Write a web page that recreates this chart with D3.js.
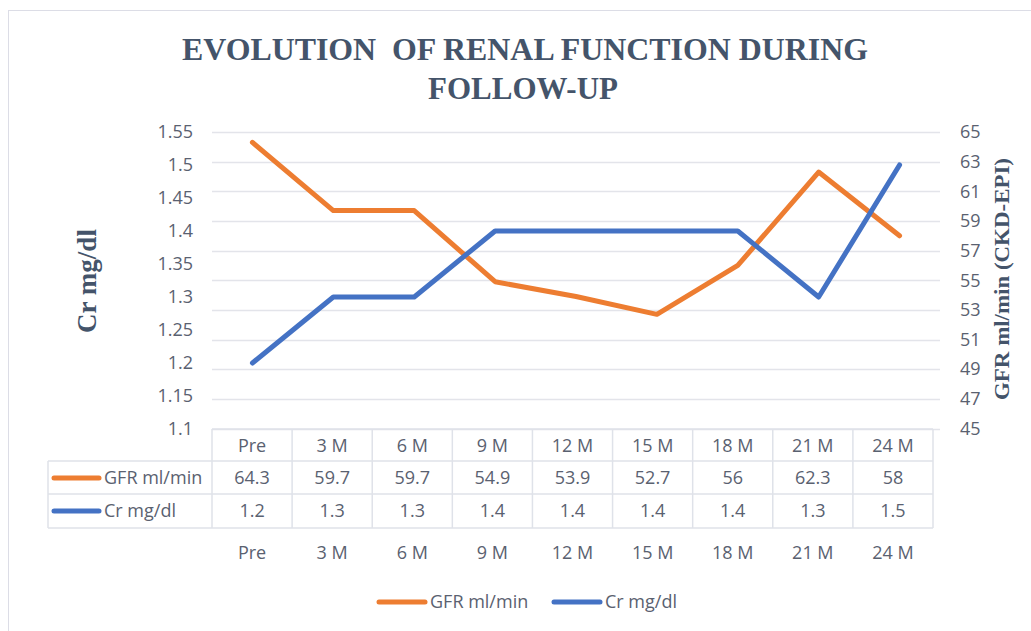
<!DOCTYPE html>
<html>
<head>
<meta charset="utf-8">
<script src="https://cdn.jsdelivr.net/npm/d3@7"></script>
<style>
  html, body { margin: 0; padding: 0; background: #fff; }
  svg { display: block; }
</style>
</head>
<body>
<svg id="chart" width="1031" height="631"></svg>
<script>
// ---- data ----
const categories = ["Pre", "3 M", "6 M", "9 M", "12 M", "15 M", "18 M", "21 M", "24 M"];
const gfrValues = [64.3, 59.7, 59.7, 54.9, 53.9, 52.7, 56, 62.3, 58];
const crValues = [1.2, 1.3, 1.3, 1.4, 1.4, 1.4, 1.4, 1.3, 1.5];
const gfrLabels = ["64.3", "59.7", "59.7", "54.9", "53.9", "52.7", "56", "62.3", "58"];
const crLabels = ["1.2", "1.3", "1.3", "1.4", "1.4", "1.4", "1.4", "1.3", "1.5"];
const leftTicks = [1.1, 1.15, 1.2, 1.25, 1.3, 1.35, 1.4, 1.45, 1.5, 1.55];
const leftTickLabels = ["1.1", "1.15", "1.2", "1.25", "1.3", "1.35", "1.4", "1.45", "1.5", "1.55"];
const rightTicks = [45, 47, 49, 51, 53, 55, 57, 59, 61, 63, 65];
const seriesNames = ["GFR ml/min", "Cr mg/dl"];
const titleLines = ["EVOLUTION  OF RENAL FUNCTION DURING", "FOLLOW-UP"];
const leftTitle = "Cr mg/dl";
const rightTitle = "GFR ml/min (CKD-EPI)";

// ---- styles ----
const ORANGE = "#ED7D31", BLUE = "#4472C4";
const TXT = "#5a6170", TITLE = "#44546A", GRID = "#e3e4ea", TBL = "#dfe2e9";
const SANS = "'Open Sans', 'Noto Sans', sans-serif";
const SERIF = "'Liberation Serif', 'DejaVu Serif', serif";

const svg = d3.select("#chart");

// outer chart border
svg.append("rect").attr("x", 8.5).attr("y", 10.5).attr("width", 1040).attr("height", 640)
  .attr("fill", "none").attr("stroke", "#dcdde6").attr("stroke-width", 1);

// scales
const x = d3.scaleBand().domain(categories).range([212, 940]).padding(0);
const xt = d3.scaleBand().domain(categories).range([212, 933]).padding(0);
const yL = d3.scaleLinear().domain([1.1, 1.55]).range([429, 132]);
const yR = d3.scaleLinear().domain([45, 65]).range([428.5, 132]);

// gridlines (aligned with secondary axis ticks)
svg.append("g").selectAll("line").data(rightTicks).join("line")
  .attr("x1", 212).attr("x2", 940)
  .attr("y1", d => Math.round(yR(d)) + 0.5).attr("y2", d => Math.round(yR(d)) + 0.5)
  .attr("stroke", GRID).attr("stroke-width", 1.5);

// left axis labels
const gL = svg.append("g").attr("transform", "translate(193,0)")
  .call(d3.axisLeft(yL).tickValues(leftTicks).tickSize(0).tickPadding(0)
    .tickFormat((d, i) => leftTickLabels[i]));
gL.select(".domain").remove();
gL.selectAll("text").attr("font-family", SANS).attr("font-size", 18).attr("fill", TXT);

// right axis labels
const gR = svg.append("g").attr("transform", "translate(960,0)")
  .call(d3.axisRight(yR).tickValues(rightTicks).tickSize(0).tickPadding(0).tickFormat(d3.format("d")));
gR.select(".domain").remove();
gR.selectAll("text").attr("font-family", SANS).attr("font-size", 18).attr("fill", TXT);

// lines
const lineGFR = d3.line().x((d, i) => x(categories[i]) + x.bandwidth() / 2).y(d => yR(d));
const lineCr = d3.line().x((d, i) => x(categories[i]) + x.bandwidth() / 2).y(d => yL(d));
svg.append("path").datum(gfrValues).attr("d", lineGFR)
  .attr("fill", "none").attr("stroke", ORANGE).attr("stroke-width", 5)
  .attr("stroke-linejoin", "round").attr("stroke-linecap", "round");
svg.append("path").datum(crValues).attr("d", lineCr)
  .attr("fill", "none").attr("stroke", BLUE).attr("stroke-width", 5)
  .attr("stroke-linejoin", "round").attr("stroke-linecap", "round");

// data table
const rowTop = [429, 461, 494], rowBot = 528;
const tbl = svg.append("g").attr("stroke", TBL).attr("stroke-width", 1.5).attr("fill", "none");
// horizontal lines
tbl.append("line").attr("x1", 212).attr("x2", 933).attr("y1", 429).attr("y2", 429);
[461, 494, 528].forEach(yy => tbl.append("line").attr("x1", 48).attr("x2", 933).attr("y1", yy).attr("y2", yy));
// vertical lines
const colEdges = categories.map(c => xt(c)).concat([933]);
tbl.selectAll("line.v").data(colEdges).join("line").attr("class", "v")
  .attr("x1", d => d).attr("x2", d => d).attr("y1", 429).attr("y2", rowBot);
tbl.append("line").attr("x1", 48).attr("x2", 48).attr("y1", 461).attr("y2", rowBot);

const cx = c => xt(c) + xt.bandwidth() / 2;
const textRow = (labels, yy) => svg.append("g").selectAll("text").data(labels).join("text")
  .attr("x", (d, i) => cx(categories[i])).attr("y", yy).attr("dy", "0.35em")
  .attr("text-anchor", "middle").attr("font-family", SANS).attr("font-size", 18).attr("fill", TXT)
  .text(d => d);
textRow(categories, 446);
textRow(gfrLabels, 478);
textRow(crLabels, 511);

// row legend keys
[[ORANGE, seriesNames[0], 478], [BLUE, seriesNames[1], 511]].forEach(([col, name, yy]) => {
  svg.append("line").attr("x1", 54).attr("x2", 99).attr("y1", yy).attr("y2", yy)
    .attr("stroke", col).attr("stroke-width", 5).attr("stroke-linecap", "round");
  svg.append("text").attr("x", 104).attr("y", yy).attr("dy", "0.35em")
    .attr("font-family", SANS).attr("font-size", 18).attr("fill", TXT).text(name);
});

// category axis below table
const gX = svg.append("g").attr("transform", "translate(0,553)")
  .call(d3.axisBottom(xt).tickSize(0).tickPadding(0));
gX.select(".domain").remove();
gX.selectAll("text").attr("font-family", SANS).attr("font-size", 18).attr("fill", TXT)
  .attr("dy", "0.35em").attr("y", 0);

// legend
const legendItems = [[ORANGE, seriesNames[0], 378], [BLUE, seriesNames[1], 553]];
legendItems.forEach(([col, name, lx]) => {
  svg.append("line").attr("x1", lx + 1).attr("x2", lx + 47).attr("y1", 602).attr("y2", 602)
    .attr("stroke", col).attr("stroke-width", 5).attr("stroke-linecap", "round");
  svg.append("text").attr("x", lx + 52).attr("y", 602).attr("dy", "0.35em")
    .attr("font-family", SANS).attr("font-size", 18).attr("fill", TXT).text(name);
});

// title
svg.append("text").attr("x", 525).attr("y", 59.5).attr("text-anchor", "middle")
  .attr("font-family", SERIF).attr("font-weight", "bold").attr("font-size", 32).attr("fill", TITLE)
  .attr("textLength", 686).attr("lengthAdjust", "spacingAndGlyphs").attr("xml:space", "preserve")
  .style("white-space", "pre").text(titleLines[0]);
svg.append("text").attr("x", 523).attr("y", 98.5).attr("text-anchor", "middle")
  .attr("font-family", SERIF).attr("font-weight", "bold").attr("font-size", 32).attr("fill", TITLE)
  .attr("textLength", 190).attr("lengthAdjust", "spacingAndGlyphs")
  .text(titleLines[1]);

// axis titles
svg.append("text").attr("transform", "translate(88,281) rotate(-90)").attr("dy", "0.3em")
  .attr("text-anchor", "middle").attr("font-family", SERIF).attr("font-weight", "bold")
  .attr("font-size", 27).attr("fill", TITLE).text(leftTitle);
svg.append("text").attr("transform", "translate(1002,279) rotate(-90)").attr("dy", "0.3em")
  .attr("text-anchor", "middle").attr("font-family", SERIF).attr("font-weight", "bold")
  .attr("font-size", 22).attr("fill", TITLE)
  .attr("textLength", 242).attr("lengthAdjust", "spacingAndGlyphs").text(rightTitle);
</script>
</body>
</html>
